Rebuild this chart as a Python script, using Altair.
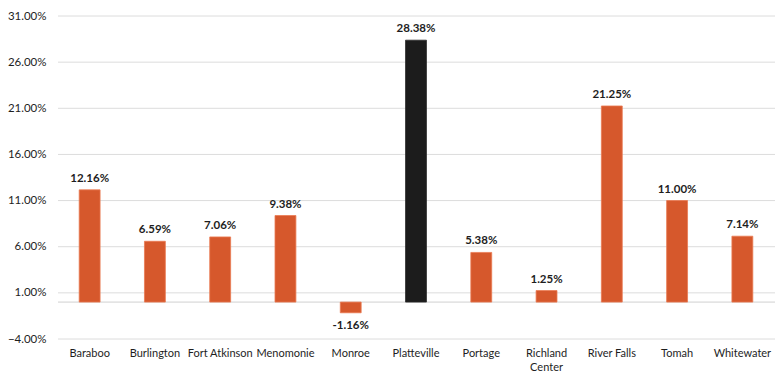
import altair as alt
import pandas as pd

# Campus growth figures (percent)
campuses = ["Baraboo", "Burlington", "Fort Atkinson", "Menomonie", "Monroe", "Platteville",
            "Portage", "Richland Center", "River Falls", "Tomah", "Whitewater"]
growth = [12.16, 6.59, 7.06, 9.38, -1.16, 28.38, 5.38, 1.25, 21.25, 11.00, 7.14]
highlight = ["Platteville"]
tick_values = [-4, 1, 6, 11, 16, 21, 26, 31]

df = pd.DataFrame({"campus": campuses, "growth": growth})
df["label"] = df["growth"].map(lambda v: f"{v:.2f}%")
df["group"] = ["hi" if c in highlight else "base" for c in campuses]

FONT = "Lato"
TXT = "#1e1e1e"
W, H = 718, 323

x_enc = alt.X(
    "campus:N", sort=campuses, title=None,
    scale=alt.Scale(paddingInner=0.68, paddingOuter=0.34),
    axis=alt.Axis(
        labelAngle=0, labelPadding=8, domain=False, ticks=False,
        labelFont=FONT, labelFontSize=11, labelColor=TXT,
        labelExpr="datum.label == 'Richland Center' ? ['Richland', 'Center'] : datum.label",
        labelLineHeight=14,
    ),
)
y_scale = alt.Scale(domain=[-4, 31], nice=False, zero=False)
y_axis = alt.Axis(values=tick_values, labelExpr="format(datum.value, '.2f') + '%'",
                  domain=False, ticks=False, grid=False,
                  labelFont=FONT, labelFontSize=11.5, labelColor=TXT, labelPadding=11)

base = alt.Chart(df)

# horizontal guide lines drawn as rules across the plot width
grid = alt.Chart(pd.DataFrame({"t": tick_values})).mark_rule(color="#dcdcdc", strokeWidth=1).encode(
    y=alt.Y("t:Q", scale=y_scale, title=None, axis=y_axis),
    x=alt.value(1), x2=alt.value(W),
)

zero = alt.Chart(pd.DataFrame({"z": [0]})).mark_rule(color="#d0d0d0", strokeWidth=1).encode(
    y=alt.Y("z:Q", scale=y_scale, title=None),
    x=alt.value(1), x2=alt.value(W),
)

bars = base.mark_bar(strokeWidth=0.8).encode(
    x=x_enc,
    y=alt.Y("growth:Q", scale=y_scale, title=None),
    y2=alt.datum(0),
    color=alt.Color("group:N", scale=alt.Scale(domain=["base", "hi"], range=["#d6582c", "#1c1c1c"]),
                    legend=None),
    stroke=alt.Stroke("group:N", scale=alt.Scale(domain=["base", "hi"], range=["#ea7a52", "#2a2a2a"]),
                      legend=None),
)

pos_labels = base.transform_filter("datum.growth >= 0").mark_text(
    baseline="bottom", dy=-6, font=FONT, fontSize=11.5, fontWeight="bold", color=TXT
).encode(x=alt.X("campus:N", sort=campuses), y=alt.Y("growth:Q", scale=y_scale, title=None),
         text="label:N")

neg_labels = base.transform_filter("datum.growth < 0").mark_text(
    baseline="top", dy=7, font=FONT, fontSize=11.5, fontWeight="bold", color=TXT
).encode(x=alt.X("campus:N", sort=campuses), y=alt.Y("growth:Q", scale=y_scale, title=None),
         text="label:N")

chart = alt.layer(grid, zero, bars, pos_labels, neg_labels).resolve_scale(
    stroke="independent"
).properties(
    width=W, height=H,
    background="white",
    autosize=alt.AutoSizeParams(type="none"),
    padding={"left": 57, "top": 16, "right": 0, "bottom": 34},
).configure_axis(
    domain=False, ticks=False, grid=False
).configure_view(strokeWidth=0, stroke="transparent")

chart.save("out.html", embed_options={"renderer": "svg", "actions": False})
